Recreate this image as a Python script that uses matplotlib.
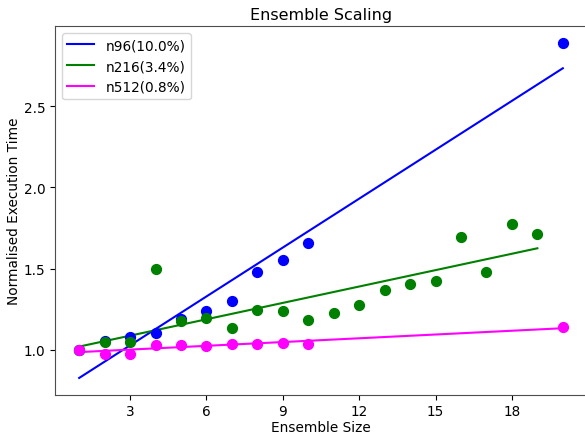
'''
Ensemble scaling: normalised execution time vs ensemble size.
'''

import numpy as np
import matplotlib as mpl
mpl.use('Agg')
from matplotlib import pyplot as plt

mpl.rcParams['font.size'] = 9.8


# measured points
x96   = [1, 2, 3, 4, 5, 6, 7, 8, 9, 10, 20]
y96   = [1.0, 1.055, 1.08, 1.105, 1.19, 1.24, 1.30, 1.48, 1.55, 1.655, 2.89]
x216  = [1, 2, 3, 4, 5, 6, 7, 8, 9, 10, 11, 12, 13, 14, 15, 16, 17, 18, 19]
y216  = [1.0, 1.05, 1.047, 1.50, 1.18, 1.195, 1.133, 1.248, 1.24, 1.186,
         1.227, 1.276, 1.366, 1.407, 1.423, 1.693, 1.48, 1.774, 1.714]
x512  = [1, 2, 3, 4, 5, 6, 7, 8, 9, 10, 20]
y512  = [1.0, 0.977, 0.975, 1.032, 1.03, 1.026, 1.036, 1.036, 1.044, 1.034, 1.14]

# fitted lines (end points)
fit96_x,  fit96_y  = [1, 20], [0.827, 2.733]
fit216_x, fit216_y = [1, 19], [1.02, 1.625]
fit512_x, fit512_y = [1, 20], [0.986, 1.133]

labels = ['n96(10.0%)', 'n216(3.4%)', 'n512(0.8%)']
colors = ['blue', 'green', 'magenta']


fig = plt.figure(figsize=(5.85, 4.35), dpi=100)
ax  = fig.add_axes([55/585, 1-395.7/435, 532/585, 368.7/435])

pts  = [(x96, y96), (x216, y216), (x512, y512)]
fits = [(fit96_x, fit96_y), (fit216_x, fit216_y), (fit512_x, fit512_y)]
for (xs, ys), c in zip(pts, colors):
	ax.scatter(xs, ys, color=c, s=50, zorder=3)
for (fx, fy), lab, c in zip(fits, labels, colors):
	ax.plot(fx, fy, color=c, lw=1.5, label=lab, zorder=2)

ax.set_xticks([3, 6, 9, 12, 15, 18])
ax.set_yticks([1.0, 1.5, 2.0, 2.5])
ax.set_xlabel('Ensemble Size', labelpad=1)
ax.set_ylabel('Normalised Execution Time', labelpad=2)
ax.set_title('Ensemble Scaling', fontsize=11.5, pad=5)
ax.legend(loc='upper left')
for sp in ax.spines.values():
	sp.set_color('0.3')

fig.savefig('out.png', dpi=100)
